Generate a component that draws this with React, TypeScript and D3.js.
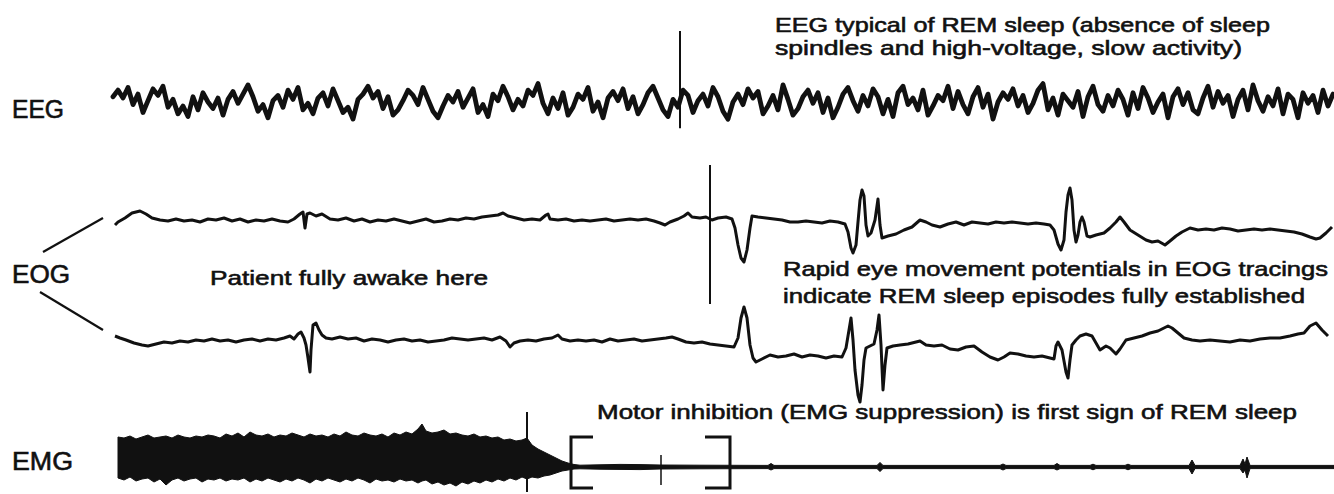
import React from 'react';
import * as d3 from 'd3';

const W = 1334;
const H = 494;

// time axis: sample index (0..1220)
const T_MAX = 1220;

// EEG samples (µV), one every 5 samples
const EEG_STEP = 5;
const eegValues = [
  4, 9, 3, 11, -2, 6, -8, 1, 10, 5, 12, -4, 2, -9, -3, -11, 4, -6, 7, 0,
  -5, 3, -10, 2, 8, -1, 6, 13, 4, -7, -2, -12, 1, 5, -4, 9, 2, 11, -6, -1,
  -9, 3, 7, -3, 10, 1, -8, -4, -13, 2, 6, 12, 3, 8, -5, 4, -10, -6, 1, 9,
  5, -2, 11, 2, -7, -12, -3, 5, 0, 8, -4, 3, 10, -8, -2, -11, 6, 1, 12, 4,
  -6, 2, -3, 9, 5, 14, -1, -9, 3, -5, 7, -10, -4, 6, 2, 11, -7, 0, -12, 3,
  8, 1, 10, -5, 4, -9, -2, 7, 12, 3, -6, -11, 2, -4, 9, 5, -8, 1, 6, -3,
  11, 4, -7, -13, 0, 6, -2, 10, 3, 8, -9, -3, 5, -6, 13, 2, -10, -5, 4, 9,
  -1, 7, -8, 3, -12, -4, 6, 11, 1, -7, 5, -3, 10, 4, -9, 2, -11, 7, 12, -2,
  3, -6, 9, -10, -3, 5, 1, 12, -5, 8, -2, -9, 4, 11, -4, 6, -13, 0, 7, 2,
  10, -3, 5, -8, -1, 9, 14, -6, 3, -10, 6, 1, -4, 8, -11, 4, 12, -2, -7, 5,
  -3, 9, 2, -10, 7, -5, 11, 3, -8, 0, 6, -12, 4, 10, -2, 7, -6, -9, 3, 12,
  -4, 8, -1, 5, -11, 2, 9, -6, 13, 1, -7, 4, -3, 10, -9, 6, 2, -12, 7, -1,
  5, -8, 9, -3, 6,
];

// EOG upper channel [sample, µV]
const eogUpper: [number, number][] = [
  [2, -5], [5, -2], [12, 2], [19, 7], [27, 9], [33, 6], [39, 2], [47, 0], [55, -1], [63, 1],
  [71, -1], [79, 0], [87, -2], [95, 1], [103, 0], [111, 2], [119, -1], [127, 1], [135, -2], [143, 0],
  [151, -1], [159, 1], [167, -1], [175, -2], [181, 1], [187, 6], [190, 8], [192, -8], [194, 6], [197, 7],
  [203, 4], [209, 6], [217, 1], [225, 0], [233, 2], [241, -1], [249, 1], [257, -2], [265, 0], [273, -1],
  [281, 1], [289, -1], [297, -3], [305, -1], [313, 1], [321, -2], [329, -1], [337, 1], [345, 0], [353, 2],
  [361, 1], [369, 3], [377, 4], [385, 5], [390, 7], [395, 4], [403, 2], [411, 0], [419, 1], [427, 0],
  [433, 5], [435, 6], [437, 1], [445, 0], [453, 1], [461, -1], [469, 0], [477, -1], [485, 0], [493, 1],
  [501, -1], [509, 0], [517, 1], [525, 0], [533, 1], [541, -1], [547, -3], [552, -5], [557, -2], [565, 1],
  [571, 4], [575, 7], [579, 3], [587, 2], [593, 3], [599, 0], [605, 2], [613, 3], [619, 1], [622, -8],
  [625, -25], [628, -38], [631, -42], [634, -30], [637, -8], [639, 4], [645, 3], [653, 2], [661, 1], [669, 0],
  [677, -2], [685, -2], [693, -1], [701, -2], [709, -3], [717, -1], [725, -2], [732, -4], [735, -12], [738, -28],
  [740, -33], [743, -25], [745, -2], [747, 20], [749, 30], [751, 24], [753, -5], [755, -16], [758, -13], [762, 0],
  [765, 21], [767, -5], [769, -18], [775, -16], [783, -14], [791, -10], [799, -7], [807, 0], [813, -2], [819, -5],
  [827, -7], [835, -4], [843, -2], [851, -5], [859, -2], [867, -3], [875, -4], [883, -2], [891, -3], [899, -2],
  [907, -3], [915, -4], [923, -3], [931, -4], [937, -5], [941, -10], [945, -24], [948, -30], [951, -20], [953, 8],
  [955, 25], [957, 32], [959, 20], [961, -10], [963, -22], [965, -15], [967, -2], [969, 3], [971, -2], [974, -16],
  [977, -17], [983, -15], [991, -13], [997, -8], [1003, -2], [1007, 3], [1011, -2], [1017, -10], [1025, -15], [1033, -20],
  [1039, -22], [1045, -21], [1052, -25], [1057, -21], [1063, -16], [1069, -12], [1077, -8], [1085, -10], [1093, -9], [1101, -10],
  [1109, -8], [1117, -9], [1125, -11], [1133, -10], [1141, -9], [1149, -10], [1157, -9], [1165, -10], [1173, -11], [1181, -12],
  [1189, -14], [1197, -17], [1203, -19], [1207, -18], [1213, -13], [1219, -7],
];

// EOG lower channel [sample, µV]
const eogLower: [number, number][] = [
  [2, 4], [7, 2], [13, 0], [21, -3], [29, -5], [35, -6], [43, -4], [51, -2], [59, -3], [67, -1],
  [75, -2], [83, 0], [91, -1], [99, 1], [107, -1], [115, 0], [123, -2], [131, 0], [139, 1], [147, -1],
  [155, 1], [163, 0], [171, 2], [177, 4], [181, 1], [185, 6], [188, 8], [191, 2], [193, -5], [195, -18],
  [197, -32], [198, -10], [200, 15], [203, 17], [206, 10], [209, 5], [213, 2], [219, 1], [227, 3], [235, 1],
  [243, 2], [251, -1], [259, 1], [267, 0], [275, -2], [283, 0], [291, 1], [299, -1], [307, 0], [315, -2],
  [323, -1], [331, 0], [339, 2], [347, 1], [355, 0], [363, 1], [371, 2], [379, 0], [387, 3], [393, -1],
  [397, -7], [401, -3], [407, -1], [415, 0], [423, -1], [431, 1], [439, 2], [445, 5], [449, 1], [457, -1],
  [465, 0], [473, -1], [481, 0], [489, -2], [497, 1], [505, -1], [513, 0], [521, 1], [529, -1], [537, 0],
  [545, 1], [553, 2], [559, 3], [565, 1], [573, -2], [581, -3], [589, -2], [597, -4], [605, -5], [613, -6],
  [621, -7], [625, 2], [628, 22], [631, 33], [634, 22], [637, -5], [640, -18], [643, -22], [649, -19], [657, -15],
  [665, -17], [673, -16], [681, -14], [689, -17], [697, -15], [705, -16], [713, -18], [721, -16], [729, -17], [733, -8],
  [736, 10], [738, 22], [740, 0], [742, -30], [745, -55], [747, -62], [749, -45], [751, -20], [753, -8], [757, -6],
  [761, -4], [764, 10], [766, 25], [768, -5], [770, -50], [772, -25], [774, -8], [780, -6], [787, -5], [795, -4],
  [803, -2], [807, -1], [813, -5], [821, -6], [829, -5], [837, -9], [845, -10], [853, -7], [861, -6], [869, -12],
  [877, -17], [885, -20], [891, -17], [897, -13], [905, -14], [913, -16], [921, -17], [929, -16], [937, -18], [941, -19],
  [943, -6], [945, -2], [949, -10], [953, -32], [955, -38], [957, -20], [959, -5], [963, 0], [967, 4], [973, 6],
  [979, 4], [983, -3], [987, -10], [993, -6], [997, -8], [1003, -14], [1007, -9], [1013, 0], [1021, 2], [1029, 4],
  [1037, 7], [1045, 9], [1051, 12], [1055, 14], [1059, 12], [1065, 7], [1071, 2], [1079, 0], [1087, -1], [1097, 0],
  [1107, -1], [1117, -2], [1127, 0], [1137, -1], [1147, 1], [1157, 2], [1167, 2], [1177, 4], [1185, 6], [1191, 7],
  [1197, 14], [1203, 17], [1209, 10], [1215, 4],
];

// EMG envelope [sample, upper µV, lower µV]
const emgEnvelope: [number, number, number][] = [
  [5, 30, -11], [11, 29, -13], [17, 31, -10], [23, 28, -14], [29, 30, -12], [35, 32, -11], [41, 29, -15], [47, 30, -12],
  [53, 31, -18], [59, 29, -13], [65, 32, -11], [71, 30, -14], [77, 29, -12], [83, 31, -11], [89, 30, -15], [95, 32, -12],
  [101, 31, -13], [107, 29, -11], [113, 33, -14], [119, 31, -12], [125, 34, -13], [131, 30, -11], [137, 35, -15], [143, 32, -12],
  [149, 31, -14], [155, 33, -11], [161, 30, -13], [167, 32, -15], [173, 31, -12], [179, 34, -14], [185, 32, -11], [191, 30, -13],
  [197, 33, -16], [203, 31, -12], [209, 32, -14], [215, 30, -11], [221, 33, -13], [227, 31, -15], [233, 35, -12], [239, 32, -14],
  [245, 31, -11], [251, 34, -13], [257, 32, -16], [263, 31, -12], [269, 33, -14], [275, 30, -13], [281, 34, -15], [287, 32, -12],
  [293, 35, -14], [299, 33, -13], [305, 38, -16], [309, 43, -14], [313, 36, -13], [319, 34, -17], [325, 35, -15], [331, 37, -18],
  [337, 33, -16], [343, 34, -19], [349, 32, -15], [355, 31, -17], [361, 33, -14], [367, 30, -16], [373, 31, -13], [379, 29, -15],
  [385, 30, -12], [391, 27, -14], [397, 28, -11], [403, 26, -13], [409, 27, -10], [414, 29, -12], [419, 22, -10], [425, 18, -11],
  [431, 15, -9], [437, 12, -8], [443, 9, -6], [449, 6, -4], [455, 4, -3], [461, 2.5, -2], [467, 1.8, -1.8], [487, 2.2, -2.2],
  [507, 2.6, -2.4], [527, 2.4, -2.6], [547, 2, -2], [587, 1.8, -1.8], [655, 1.6, -1.6], [658, 3.5, -3], [661, 1.6, -1.6], [764, 1.6, -1.6],
  [767, 4.5, -4.5], [770, 1.6, -1.6], [887, 1.6, -1.6], [890, 3, -3], [893, 1.6, -1.6], [941, 1.6, -1.6], [944, 3.5, -3], [947, 1.6, -1.6],
  [977, 1.6, -1.6], [980, 2.8, -2.8], [983, 1.6, -1.6], [1012, 1.6, -1.6], [1015, 2.8, -2.8], [1018, 1.6, -1.6], [1076, 1.6, -1.6], [1079, 7, -7],
  [1082, 1.6, -1.6], [1127, 1.6, -1.6], [1130, 8, -6], [1132, 3, -3], [1134, 10, -11], [1137, 1.6, -1.6], [1221, 1.6, -1.6],
];

// event markers (sample index)
const markerEEG = 567;
const markerEOG = 597;
const markerEMG = 414;
const bracketStart = 458;
const bracketEnd = 617;
const bracketTick = 548;

const channelLabels = ['EEG', 'EOG', 'EMG'];
const noteEEG = ['EEG typical of REM sleep (absence of sleep', 'spindles and high-voltage, slow activity)'];
const noteAwake = 'Patient fully awake here';
const noteREM = ['Rapid eye movement potentials in EOG tracings', 'indicate REM sleep episodes fully established'];
const noteEMG = 'Motor inhibition (EMG suppression) is first sign of REM sleep';

const FONT = '"Liberation Sans", Arial, Helvetica, sans-serif';
const INK = '#111';

export default function App() {
  const x = d3.scaleLinear().domain([0, T_MAX]).range([113, 1333]);
  const chan = (base: number, half = 50) => d3.scaleLinear().domain([-half, half]).range([base + 50, base - 50]);
  const yEEG = chan(102, 38);
  const yEOG1 = chan(220);
  const yEOG2 = chan(340);
  const yEMG = chan(467);

  const eegLine = d3
    .line<number>()
    .x((_, i) => x(i * EEG_STEP))
    .y((d) => yEEG(d));

  const eogLine = (ys: d3.ScaleLinear<number, number>) =>
    d3
      .line<[number, number]>()
      .x((d) => x(d[0]))
      .y((d) => ys(d[1]));

  const emgArea = d3
    .area<[number, number, number]>()
    .x((d) => x(d[0]))
    .y0((d) => yEMG(d[2]))
    .y1((d) => yEMG(d[1]));

  const textProps = { fontFamily: FONT, fill: INK, stroke: INK, strokeWidth: 0.6 } as const;
  const bl = x(bracketStart);
  const br = x(bracketEnd);

  return (
    <svg
      width={W}
      height={H}
      viewBox={`0 0 ${W} ${H}`}
      style={{ position: 'absolute', left: 0, top: 0, background: '#fff' }}
    >
      <rect x={0} y={0} width={W} height={H} fill="#fff" />

      {/* channel labels */}
      <text x={12} y={118} fontSize={25} textLength={52} lengthAdjust="spacingAndGlyphs" {...textProps}>
        {channelLabels[0]}
      </text>
      <text x={12} y={283} fontSize={25} textLength={58} lengthAdjust="spacingAndGlyphs" {...textProps}>
        {channelLabels[1]}
      </text>
      <text x={12} y={470} fontSize={25} textLength={61} lengthAdjust="spacingAndGlyphs" {...textProps}>
        {channelLabels[2]}
      </text>

      {/* EOG connectors */}
      <line x1={43} y1={252} x2={103} y2={218} stroke={INK} strokeWidth={2.2} />
      <line x1={40} y1={292} x2={103} y2={330} stroke={INK} strokeWidth={2.2} />

      {/* annotations */}
      <text x={775} y={32} fontSize={21} textLength={495} lengthAdjust="spacingAndGlyphs" {...textProps}>
        {noteEEG[0]}
      </text>
      <text x={775} y={55} fontSize={21} textLength={467} lengthAdjust="spacingAndGlyphs" {...textProps}>
        {noteEEG[1]}
      </text>
      <text x={210} y={285} fontSize={21} textLength={278} lengthAdjust="spacingAndGlyphs" {...textProps}>
        {noteAwake}
      </text>
      <text x={783} y={276} fontSize={21} textLength={545} lengthAdjust="spacingAndGlyphs" {...textProps}>
        {noteREM[0]}
      </text>
      <text x={783} y={303} fontSize={21} textLength={522} lengthAdjust="spacingAndGlyphs" {...textProps}>
        {noteREM[1]}
      </text>
      <text x={597} y={419} fontSize={21} textLength={700} lengthAdjust="spacingAndGlyphs" {...textProps}>
        {noteEMG}
      </text>

      {/* markers */}
      <line x1={x(markerEEG)} x2={x(markerEEG)} y1={yEEG(54)} y2={yEEG(-20)} stroke={INK} strokeWidth={2} />
      <line x1={x(markerEOG)} x2={x(markerEOG)} y1={yEOG1(55)} y2={yEOG2(36)} stroke={INK} strokeWidth={2} />
      <line x1={x(markerEMG)} x2={x(markerEMG)} y1={yEMG(55)} y2={yEMG(-25)} stroke={INK} strokeWidth={2} />

      {/* traces */}
      <path d={eegLine(eegValues) || ''} fill="none" stroke={INK} strokeWidth={4.8} strokeLinejoin="round" strokeLinecap="round" />
      <path d={eogLine(yEOG1)(eogUpper) || ''} fill="none" stroke={INK} strokeWidth={3} strokeLinejoin="round" />
      <path d={eogLine(yEOG2)(eogLower) || ''} fill="none" stroke={INK} strokeWidth={3} strokeLinejoin="round" />
      <path d={emgArea(emgEnvelope) || ''} fill={INK} stroke={INK} strokeWidth={1} />

      {/* bracket */}
      <path
        d={`M${x(bracketStart + 22)},${yEMG(30)} H${bl} V${yEMG(-21)} H${x(bracketStart + 22)}`}
        fill="none"
        stroke={INK}
        strokeWidth={3}
      />
      <path
        d={`M${x(bracketEnd - 25)},${yEMG(30)} H${br} V${yEMG(-21)} H${x(bracketEnd - 25)}`}
        fill="none"
        stroke={INK}
        strokeWidth={3}
      />
      <line x1={x(bracketTick)} x2={x(bracketTick)} y1={yEMG(12)} y2={yEMG(-18)} stroke={INK} strokeWidth={1.5} />
    </svg>
  );
}
